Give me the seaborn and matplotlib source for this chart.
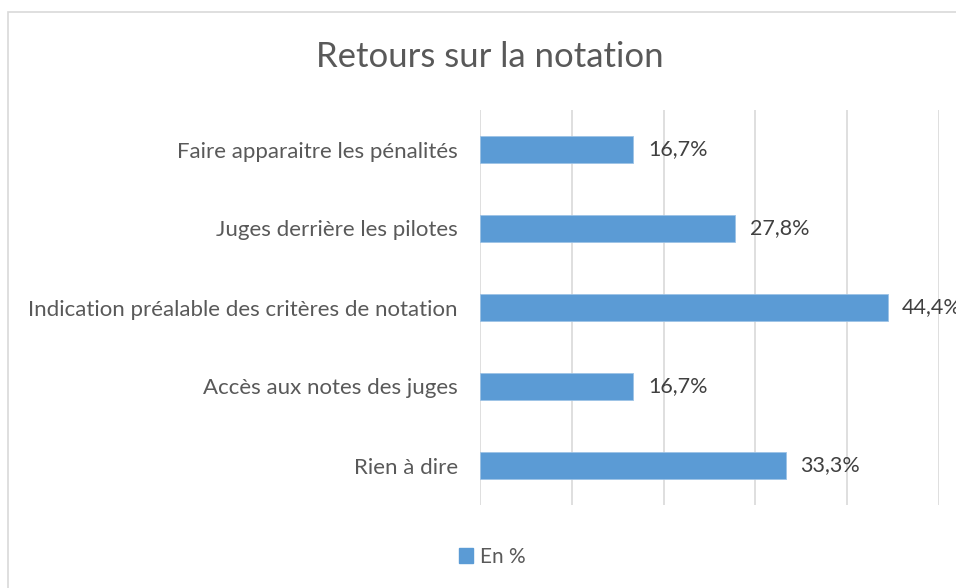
import matplotlib
matplotlib.use("Agg")
import matplotlib.pyplot as plt
import seaborn as sns
import pandas as pd
from matplotlib.patches import Rectangle, Patch

categories = [
    "Faire apparaitre les pénalités",
    "Juges derrière les pilotes",
    "Indication préalable des critères de notation",
    "Accès aux notes des juges",
    "Rien à dire",
]
values = [16.7, 27.8, 44.4, 16.7, 33.3]
series_name = "En %"
title = "Retours sur la notation"

sns.set_theme(style="white")
plt.rcParams["font.family"] = ["Lato", "DejaVu Sans"]

W, H = 956, 588
fig = plt.figure(figsize=(W / 100, H / 100), dpi=100)
ax = fig.add_axes([480 / W, 1 - 505 / H, (939 - 480) / W, (505 - 110) / H])

df = pd.DataFrame({"cat": categories, "val": values})
color = "#5B9BD5"
sns.barplot(data=df, x="val", y="cat", orient="h", color=color, width=0.35,
            saturation=1, ax=ax, edgecolor="#9dc3e6", linewidth=0.6)

ax.set_xlim(0, 50)
ax.set_xticks([0, 10, 20, 30, 40, 50])
ax.set_xticklabels([])
ax.grid(axis="x", color="#d9d9d9", linewidth=1.2)
ax.grid(axis="y", visible=False)
ax.set_axisbelow(True)
for s in ax.spines.values():
    s.set_visible(False)
ax.set_xlabel("")
ax.set_ylabel("")
ax.tick_params(axis="y", length=0, pad=16, labelsize=16, labelcolor="#595959")
ax.tick_params(axis="x", length=0)

for cont in ax.containers:
    ax.bar_label(cont, labels=[f"{v:.1f}%".replace(".", ",") for v in values],
                 padding=10.5, fontsize=15.5, color="#404040", clip_on=False)

fig.text(490 / W, 1 - 57 / H, title, ha="center", va="center", fontsize=25, color="#595959")

handles = [Patch(facecolor=color, edgecolor=color)]
fig.legend(handles, [series_name], loc="center", bbox_to_anchor=(492 / W, 1 - 557 / H),
           frameon=False, fontsize=15, labelcolor="#595959", handlelength=0.7,
           handleheight=0.7, handletextpad=0.3)

fig.patches.append(Rectangle((8 / W, -0.1), 1.2, 1 - 12 / H + 0.1, transform=fig.transFigure,
                             fill=False, edgecolor="#d9d9d9", linewidth=1.2))

fig.savefig("out.png", dpi=100)
